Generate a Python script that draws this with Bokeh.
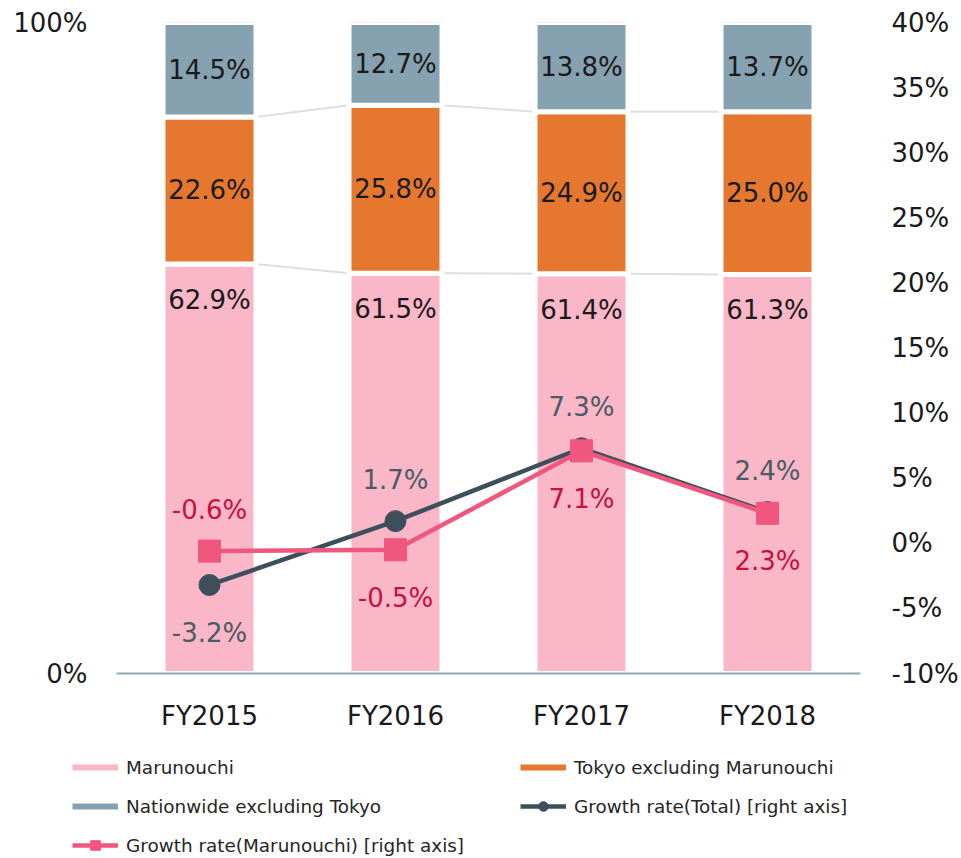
from bokeh.plotting import figure
from bokeh.layouts import column
from bokeh.models import (Range1d, LinearAxis, FixedTicker, PrintfTickFormatter,
                          ColumnDataSource, Legend, LegendItem)
from bokeh.core.properties import value
from bokeh.embed import file_html
from bokeh.resources import INLINE

# ---------------- data ----------------
categories = ["FY2015", "FY2016", "FY2017", "FY2018"]
marunouchi = [62.9, 61.5, 61.4, 61.3]
tokyo_ex = [22.6, 25.8, 24.9, 25.0]
nationwide_ex = [14.5, 12.7, 13.8, 13.7]
growth_total = [-3.2, 1.7, 7.3, 2.4]
growth_maru = [-0.6, -0.5, 7.1, 2.3]
left_ticks = [0, 100]
right_ticks = [-10, -5, 0, 5, 10, 15, 20, 25, 30, 35, 40]

# ---------------- style ----------------
FONT = "DejaVu Sans"
C_PINK = "#f9b7c8"
C_ORANGE = "#e5782e"
C_GRAY = "#86a1b0"
C_TOTAL = "#3d4f5a"
C_MARU = "#f0567e"
C_TOTAL_LBL = "#4b5b66"
C_MARU_LBL = "#c8103e"
C_TEXT = "#1a1a1a"

n = len(categories)
x = [i + 0.5 for i in range(n)]
half = 0.25

p = figure(width=961, height=740,
           x_range=Range1d(0, n), y_range=Range1d(left_ticks[0], left_ticks[-1]),
           output_backend="svg", toolbar_location=None,
           min_border_left=116, min_border_right=101,
           min_border_top=22, min_border_bottom=67)
p.frame_align = False
p.extra_y_ranges = {"growth": Range1d(right_ticks[0], right_ticks[-1])}
p.outline_line_color = None
p.background_fill_color = "white"
p.border_fill_color = "white"

p.xgrid.visible = False
p.ygrid.ticker = FixedTicker(ticks=[left_ticks[-1]])
p.ygrid.grid_line_color = "#dfe5ea"
p.ygrid.grid_line_width = 2

# x axis
xa = p.xaxis[0]
xa.ticker = FixedTicker(ticks=x)
xa.major_label_overrides = {xi: c for xi, c in zip(x, categories)}
xa.axis_line_color = "#91a8b6"
xa.axis_line_width = 2
xa.major_tick_line_color = None
xa.minor_tick_line_color = None
xa.major_label_text_font = FONT
xa.major_label_text_font_size = "26px"
xa.major_label_text_color = C_TEXT
xa.major_label_standoff = 21

# left axis
ya = p.yaxis[0]
ya.ticker = FixedTicker(ticks=left_ticks)
ya.formatter = PrintfTickFormatter(format="%d%%")
ya.axis_line_color = None
ya.major_tick_line_color = None
ya.minor_tick_line_color = None
ya.major_label_text_font = FONT
ya.major_label_text_font_size = "26px"
ya.major_label_text_color = C_TEXT
ya.major_label_standoff = 23

# right axis
ra = LinearAxis(y_range_name="growth", ticker=FixedTicker(ticks=right_ticks),
                formatter=PrintfTickFormatter(format="%d%%"))
ra.axis_line_color = None
ra.major_tick_line_color = None
ra.minor_tick_line_color = None
ra.major_label_text_font = FONT
ra.major_label_text_font_size = "26px"
ra.major_label_text_color = C_TEXT
ra.major_label_standoff = 25
p.add_layout(ra, "right")

# ---------------- connectors between stacked bars ----------------
top1 = marunouchi
top2 = [a + b for a, b in zip(marunouchi, tokyo_ex)]
cx0 = [x[i] + half for i in range(n - 1)]
cx1 = [x[i + 1] - half for i in range(n - 1)]
p.segment(x0=cx0 + cx0, y0=top1[:-1] + top2[:-1], x1=cx1 + cx1, y1=top1[1:] + top2[1:],
          line_color="#d8e0e5", line_width=2)

# ---------------- stacked bars ----------------
src = ColumnDataSource(dict(x=x, maru=marunouchi, tokyo=tokyo_ex, nation=nationwide_ex))
p.vbar_stack(["maru", "tokyo", "nation"], x="x", width=2 * half,
             fill_color=[C_PINK, C_ORANGE, C_GRAY],
             line_color="white", line_width=5, source=src)

# bar labels
lbl_src = ColumnDataSource(dict(
    x=x * 3,
    y=list(marunouchi)
      + [a + b / 2 for a, b in zip(marunouchi, tokyo_ex)]
      + [a + b + c / 2 for a, b, c in zip(marunouchi, tokyo_ex, nationwide_ex)],
    text=[f"{v:.1f}%" for v in marunouchi + tokyo_ex + nationwide_ex],
    yoff=[36] * n + [0] * (2 * n),
))
p.text(x="x", y="y", text="text", y_offset="yoff", source=lbl_src,
       text_font=value(FONT), text_font_size="26px", text_color=C_TEXT,
       text_align="center", text_baseline="middle")

# ---------------- growth lines ----------------
p.line(x, growth_total, y_range_name="growth", line_color=C_TOTAL, line_width=4.5)
p.scatter(x, growth_total, y_range_name="growth", marker="circle", size=21,
          fill_color=C_TOTAL, line_color=C_TOTAL)
p.line(x, growth_maru, y_range_name="growth", line_color=C_MARU, line_width=4.5)
p.scatter(x, growth_maru, y_range_name="growth", marker="square", size=22,
          fill_color=C_MARU, line_color=C_MARU)

ABOVE, BELOW = -41, 48
tot_off = [ABOVE if t > m else BELOW for t, m in zip(growth_total, growth_maru)]
maru_off = [ABOVE if m > t else BELOW for t, m in zip(growth_total, growth_maru)]
p.text(x=x, y=growth_total, text=[f"{v:.1f}%" for v in growth_total], y_offset=tot_off,
       y_range_name="growth", text_font=value(FONT), text_font_size="26px",
       text_color=C_TOTAL_LBL, text_align="center", text_baseline="middle")
p.text(x=x, y=growth_maru, text=[f"{v:.1f}%" for v in growth_maru], y_offset=maru_off,
       y_range_name="growth", text_font=value(FONT), text_font_size="26px",
       text_color=C_MARU_LBL, text_align="center", text_baseline="middle")

# ---------------- legend (separate strip below the chart) ----------------
lp = figure(width=961, height=118, x_range=Range1d(0, 1), y_range=Range1d(0, 1),
            output_backend="svg", toolbar_location=None,
            x_axis_location=None, y_axis_location=None,
            min_border=0, min_border_left=0, min_border_right=0,
            min_border_top=0, min_border_bottom=0)
lp.frame_align = False
lp.grid.visible = False
lp.outline_line_color = None
lp.border_fill_color = "white"

nan = float("nan")
g_pink = lp.line([0], [nan], line_color=C_PINK, line_width=6)
g_orange = lp.line([0], [nan], line_color=C_ORANGE, line_width=6)
g_gray = lp.line([0], [nan], line_color=C_GRAY, line_width=6)
g_tot_l = lp.line([0], [nan], line_color=C_TOTAL, line_width=4.5)
g_tot_s = lp.scatter([0], [nan], marker="circle", fill_color=C_TOTAL, line_color=C_TOTAL)
g_maru_l = lp.line([0], [nan], line_color=C_MARU, line_width=4.5)
g_maru_s = lp.scatter([0], [nan], marker="square", fill_color=C_MARU, line_color=C_MARU)


def make_legend(items, loc):
    return Legend(items=items, location=loc, orientation="vertical",
                  glyph_width=46, glyph_height=24, label_height=24, spacing=15,
                  label_standoff=8, padding=0, margin=0,
                  border_line_color=None, background_fill_alpha=0,
                  label_text_font=FONT, label_text_font_size="18.4px",
                  label_text_color="#262626")


leg_left = make_legend([
    LegendItem(label="Marunouchi", renderers=[g_pink]),
    LegendItem(label="Nationwide excluding Tokyo", renderers=[g_gray]),
    LegendItem(label="Growth rate(Marunouchi) [right axis]", renderers=[g_maru_l, g_maru_s]),
], (72, 1))
leg_right = make_legend([
    LegendItem(label="Tokyo excluding Marunouchi", renderers=[g_orange]),
    LegendItem(label="Growth rate(Total) [right axis]", renderers=[g_tot_l, g_tot_s]),
], (520, 40))
lp.add_layout(leg_left, "center")
lp.add_layout(leg_right, "center")

open("out.html", "w").write(file_html(column(p, lp, spacing=0), INLINE))
